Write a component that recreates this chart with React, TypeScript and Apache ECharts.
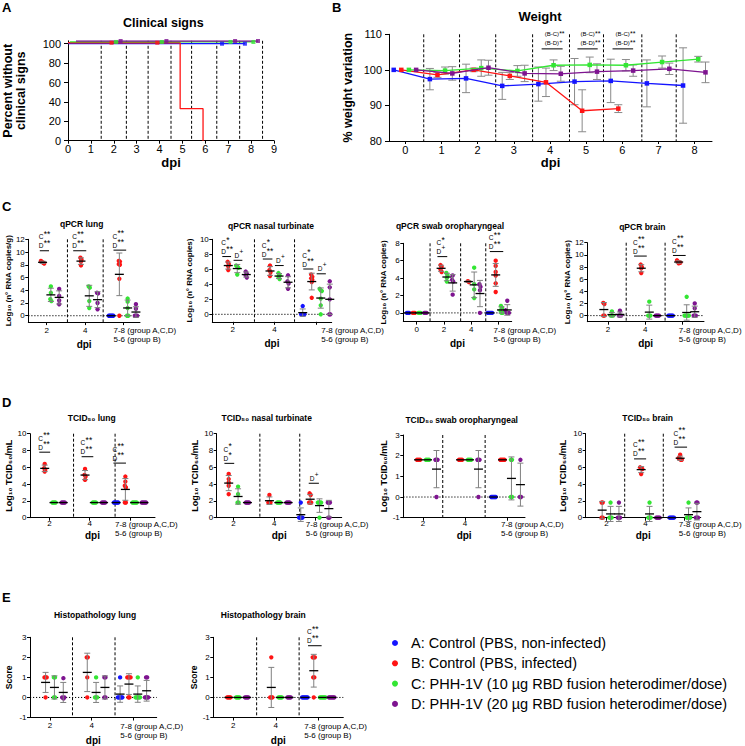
import React, { useEffect, useRef } from "react";
import * as echarts from "echarts";

const FONT = '"Liberation Sans", Arial, Helvetica, sans-serif';
const COLORS = ["#1414ff", "#ff1414", "#33e633", "#7e1490"];
const groupNames = [
  "A: Control (PBS, non-infected)",
  "B: Control (PBS, infected)",
  "C: PHH-1V (10 µg RBD fusion heterodimer/dose)",
  "D: PHH-1V (20 µg RBD fusion heterodimer/dose)",
];

/* ---------- Panel A: clinical signs ---------- */
const clinicalA = [[0, 100], [7.73, 100]];
const clinicalB = [[0, 101], [4.9, 101], [4.9, 33], [5.9, 33], [5.9, 0]];
const clinicalC = [[0.08, 101.8], [8.1, 101.8]];
const clinicalD = [[0.35, 102.8], [8.3, 102.8]];
const censorA = [[6.73, 100], [7.73, 100]];
const censorB = [[1.9, 101], [3.9, 101]];
const censorC = [[2.1, 101.8], [4.1, 101.8], [7.1, 101.8], [8.1, 101.8]];
const censorD = [[2.3, 102.8], [4.3, 102.8], [7.3, 102.8], [8.3, 102.8]];
const clinicalYTicks = [0, 20, 40, 60, 80, 100];

/* ---------- Panel B: weight ---------- */
const weightDays = [0, 1, 2, 3, 4, 5, 6, 7, 8];
const weightMeanA = [100, 97.4, 97.6, 95.5, 96.0, 96.7, 96.9, 96.2, 95.6];
const weightSdA = [0, 3.0, 4.0, 3.8, 4.8, 6.5, 6.1, 6.6, 10.6];
const weightMeanB = [100, 98.6, 100.0, 98.3, 96.5, 88.5, 89.1];
const weightSdB = [0, 0.7, 0.5, 1.0, 4.0, 5.9, 1.1];
const weightMeanC = [100, 99.8, 100.5, 99.7, 101.3, 101.4, 101.3, 102.2, 103.0];
const weightSdC = [0, 1.0, 2.3, 1.5, 1.5, 2.2, 1.6, 1.7, 0.8];
const weightMeanD = [100, 99.0, 100.6, 99.0, 98.9, 99.5, 99.8, 100.3, 99.3];
const weightSdD = [0, 1.9, 2.1, 2.3, 2.1, 2.2, 1.6, 1.6, 2.9];
const weightYTicks = [80, 90, 100, 110];

/* ---------- Dot plots: [dpi category][group A,B,C,D] ---------- */
const dpiTicks3 = ["2", "4", "7-8 (group A,C,D)\n5-6 (group B)"];
const dpiTicks4 = ["0", "2", "4", "7-8 (group A,C,D)\n5-6 (group B)"];
const ticks0to12 = [0, 2, 4, 6, 8, 10, 12];
const ticks0to10 = [0, 2, 4, 6, 8, 10];
const ticks0to8 = [0, 2, 4, 6, 8];
const ticksM1to3 = [-1, 0, 1, 2, 3];

const qpcrLung = [
  [[], [8.6, 8.45, 8.3, 8.2], [4.6, 3.6, 2.6, 2.3], [4.2, 3.1, 2.4, 1.8]],
  [[], [9.1, 8.8, 8.5, 7.9], [4.6, 4.4, 2.3, 1.2], [3.6, 3.5, 2.0, 1.0]],
  [[0, 0, 0, 0, 0], [8.6, 8.5, 8.1, 8.0, 5.8, 0], [2.7, 2.2, 1.2, 0, 0], [1.8, 1.1, 0, 0, 0]],
];
const qpcrNasal = [
  [[], [7.0, 6.7, 6.4, 5.9], [6.5, 6.4, 6.2, 5.3], [5.7, 5.4, 5.2, 4.9]],
  [[], [6.5, 5.9, 5.6, 5.1], [5.5, 5.2, 5.0, 4.7], [5.2, 4.4, 4.1, 3.4]],
  [[1.1, 0, 0, 0, 0], [5.3, 5.0, 4.8, 4.6, 4.3, 2.2], [3.4, 3.2, 3.1, 2.1, 1.2, 0], [4.4, 3.6, 2.0, 0, 0]],
];
const qpcrSwab = [
  [[0, 0, 0], [0, 0, 0], [0, 0, 0], [0, 0, 0]],
  [[], [5.5, 5.3, 5.0, 4.7], [4.6, 4.3, 4.0, 3.6], [4.3, 3.8, 3.6, 2.1]],
  [[], [3.65, 3.55], [5.2, 3.3, 2.7, 1.7], [3.3, 3.0, 2.6, 0]],
  [[0, 0, 0, 0, 0], [6.0, 5.4, 4.7, 4.3, 3.4, 2.4], [0.8, 0.6, 0.3, 0, 0], [1.4, 0.3, 0, 0, 0]],
];
const qpcrBrain = [
  [[], [2.1, 1.9, 0, 0], [0.7, 0, 0, 0], [0.8, 0, 0, 0]],
  [[], [8.4, 8.0, 7.8, 7.0], [2.3, 0, 0, 0], [0, 0, 0, 0]],
  [[0, 0, 0, 0, 0], [9.1, 8.9, 8.8, 8.7, 8.6], [3.1, 0, 0, 0, 0, 0], [2.0, 1.2, 0, 0, 0]],
];
const tcidLung = [
  [[], [6.4, 5.9, 5.7, 5.5], [1.8, 1.8, 1.8, 1.8], [1.8, 1.8, 1.8, 1.8]],
  [[], [5.8, 5.1, 4.9, 4.5], [1.8, 1.8, 1.8, 1.8], [1.8, 1.8, 1.8, 1.8]],
  [[1.8, 1.8, 1.8, 1.8, 1.8], [4.9, 4.3, 3.8, 3.6, 1.8, 1.8], [1.8, 1.8, 1.8, 1.8, 1.8], [1.8, 1.8, 1.8, 1.8, 1.8]],
];
const tcidNasal = [
  [[], [5.2, 4.6, 4.2, 3.8, 2.8], [3.7, 2.8, 1.8, 1.8], [1.8, 1.8, 1.8, 1.8]],
  [[], [2.7, 1.8, 1.8, 1.8], [1.8, 1.8, 1.8, 1.8], [1.8, 1.8, 1.8, 1.8]],
  [[1.8, 0, 0, 0, 0], [2.9, 2.7, 1.8, 1.8, 1.8], [1.8, 1.8, 1.8, 1.8, 0], [1.8, 1.8, 1.8, 0, 0]],
];
const tcidSwab = [
  [[], [1.8, 1.8, 1.8, 1.8], [1.8, 1.8, 1.8, 1.8], [1.8, 1.8, 1.8, 0]],
  [[], [1.8, 1.8, 1.8, 1.8], [1.8, 1.8, 1.8, 1.8], [1.8, 1.8, 1.8, 0]],
  [[0, 0, 0, 0, 0], [1.8, 1.8, 1.8, 1.8, 1.8], [1.8, 1.8, 0, 0], [1.8, 0, 0]],
];
const tcidBrain = [
  [[], [1.8, 1.8, 0, 0], [1.8, 0, 0, 0], [1.8, 0, 0, 0]],
  [[], [6.0, 5.9, 5.8, 5.2], [1.8, 0, 0, 0], [0, 0, 0, 0]],
  [[0, 0, 0, 0, 0], [7.5, 7.1, 7.0, 6.9, 6.9], [1.8, 0, 0, 0, 0], [1.8, 1.8, 0, 0, 0]],
];
const histoLung = [
  [[], [1, 1, 1, 0], [1, 1, 0, 0], [1, 0, 0, 0]],
  [[], [2, 2, 1, 0], [1, 0, 0, 0], [1, 1, 0, 0]],
  [[1, 0, 0, 0, 0, 0], [1, 1, 1, 1, 0, 0], [1, 0, 0, 0, 0, 0], [1, 1, 0, 0, 0, 0]],
];
const histoBrain = [
  [[], [0, 0, 0, 0], [0, 0, 0, 0], [0, 0, 0, 0]],
  [[], [2, 0, 0, 0], [0, 0, 0, 0], [0, 0, 0, 0]],
  [[0, 0, 0, 0, 0, 0], [2, 2, 2, 1, 1, 0], [0, 0, 0, 0, 0, 0], [0, 0, 0, 0, 0, 0]],
];

/* ---------- Layout (positions / styles) ---------- */
const LOG_RNA_G = "Log₁₀ (n° RNA copies/g)";
const LOG_RNA = "Log₁₀ (n° RNA copies)";
const LOG_TCID = "Log₁₀ TCID₅₀/mL";
const dotPanels: any[] = [
  { data: qpcrLung, ticks: dpiTicks3, grid: [28.3, 239.3, 111.7, 82.8], xr: [-0.48, 2.43], yr: [-1, 12], yTicks: ticks0to12, div: [0.54, 1.47], zero: true, gw: 0.216, yName: LOG_RNA_G, yNameFs: 8, yGap: 11, xGap: 17, margin: 4, shift: -10 },
  { data: qpcrNasal, ticks: dpiTicks3, grid: [212.3, 239.3, 119.4, 82.5], xr: [-0.49, 2.37], yr: [-1, 10], yTicks: ticks0to10, div: [0.52, 1.48], zero: true, gw: 0.216, yName: LOG_RNA, yNameFs: 8, yGap: 19, xGap: 17, margin: 4, shift: 5 },
  { data: qpcrSwab, ticks: dpiTicks4, grid: [403.3, 243.3, 108.4, 78.3], xr: [-0.49, 3.48], yr: [-1, 8], yTicks: ticks0to8, div: [0.49, 1.61, 2.53], zero: true, gw: 0.212, yName: LOG_RNA, yNameFs: 8, yGap: 16, xGap: 17, margin: 4, shift: -5 },
  { data: qpcrBrain, ticks: dpiTicks3, grid: [587.3, 242.7, 122.7, 79], xr: [-0.55, 2.57], yr: [-1, 12], yTicks: ticks0to12, div: [0.49, 1.53], zero: true, gw: 0.215, yName: LOG_RNA, yNameFs: 8, yGap: 15, xGap: 17, margin: 4, shift: -4 },
  { data: tcidLung, ticks: dpiTicks3, grid: [30, 433.7, 125, 84], xr: [-0.48, 2.62], yr: [0, 10], yTicks: ticks0to10, div: [0.6, 1.63], zero: false, gw: 0.23, yName: LOG_TCID, yNameFs: 9, yGap: 15, xGap: 12.5, margin: 2, shift: -15 },
  { data: tcidNasal, ticks: dpiTicks3, grid: [216.7, 433.7, 125, 84], xr: [-0.41, 2.66], yr: [0, 10], yTicks: ticks0to10, div: [0.65, 1.63], zero: false, gw: 0.23, yName: LOG_TCID, yNameFs: 9, yGap: 17, xGap: 12.5, margin: 2, shift: -9 },
  { data: tcidSwab, ticks: dpiTicks3, grid: [403.3, 435, 121.7, 82.7], xr: [-0.47, 2.43], yr: [-1, 3], yTicks: ticksM1to3, div: [0.47, 1.48], zero: true, gw: 0.214, yName: LOG_TCID, yNameFs: 9, yGap: 14, xGap: 12.5, margin: 2, shift: -6 },
  { data: tcidBrain, ticks: dpiTicks3, grid: [585.7, 433.7, 126, 84], xr: [-0.53, 2.42], yr: [0, 10], yTicks: ticks0to10, div: [0.47, 1.46], zero: false, gw: 0.215, yName: LOG_TCID, yNameFs: 9, yGap: 18, xGap: 12.5, margin: 2, shift: -6 },
  { data: histoLung, ticks: dpiTicks3, grid: [30, 637.3, 126.7, 82.7], xr: [-0.48, 2.56], yr: [-1, 3], yTicks: ticksM1to3, div: [0.54, 1.56], zero: true, gw: 0.212, yName: "Score", yNameFs: 8.5, yGap: 17, xGap: 17.5, margin: 4, shift: -13 },
  { data: histoBrain, ticks: dpiTicks3, grid: [213.3, 637.3, 130, 82.7], xr: [-0.47, 2.59], yr: [-1, 3], yTicks: ticksM1to3, div: [0.55, 1.55], zero: true, gw: 0.21, yName: "Score", yNameFs: 8.5, yGap: 13, xGap: 17.5, margin: 4, shift: -14 },
];

const panelTitles: any[] = [
  ["Clinical signs", 163.3, 22.7, 12.5],
  ["Weight", 540, 16.7, 13],
  ["qPCR lung", 81.7, 224.3, 8.5],
  ["qPCR nasal turbinate", 271, 226, 8.5],
  ["qPCR swab oropharyngeal", 450, 226, 8.5],
  ["qPCR brain", 642.3, 226.7, 8.5],
  ["TCID₅₀ lung", 91.7, 418.3, 8.5],
  ["TCID₅₀ nasal turbinate", 266.7, 418.3, 8.5],
  ["TCID₅₀ swab oropharyngeal", 461.7, 420, 8.5],
  ["TCID₅₀ brain", 647.7, 418.3, 8.5],
  ["Histopathology lung", 95, 615, 8.5],
  ["Histopathology brain", 263.3, 615, 8.5],
];
const panelLetters: any[] = [["A", 2, 7.5], ["B", 332, 7.5], ["C", 2, 206], ["D", 2, 402.5], ["E", 2, 597.5]];

// significance marks: [gridIndex, x1, x2, yLine, C-superscript, D-superscript]
const sigMarks: any[] = [
  [2, -0.18, 0.06, 10.2, "**", "**"],
  [2, 0.69, 1.03, 10.2, "**", "**"],
  [2, 1.74, 2.07, 10.3, "**", "**"],
  [3, -0.25, -0.04, 7.7, "*", "**"],
  [3, 0.02, 0.23, 7.2, "", "+"],
  [3, 0.72, 0.95, 7.37, "*", "**"],
  [3, 1.01, 1.22, 6.5, "", "+"],
  [3, 1.69, 1.93, 6.04, "*", "**"],
  [3, 2.01, 2.23, 5.4, "", "+"],
  [4, 0.76, 1.12, 6.47, "*", "+"],
  [4, 2.68, 3.17, 7.05, "**", "**"],
  [5, 0.7, 1.04, 9.8, "**", "**"],
  [5, 1.74, 2.08, 9.9, "**", "**"],
  [6, -0.25, 0.02, 7.8, "**", "**"],
  [6, 0.8, 1.09, 7.26, "**", "**"],
  [6, 1.59, 1.9, 6.5, "**", "**"],
  [7, -0.22, 0.02, 6.47, "*", "*"],
  [7, 1.85, 2.1, 4.1, "", "+"],
  [9, 0.71, 1.02, 7.0, "**", "**"],
  [9, 1.75, 2.07, 8.4, "**", "**"],
  [11, 1.76, 2.08, 2.58, "**", "**"],
];
// weight brackets: [x1, x2, y, B-C sup, B-D sup]
const weightSig: any[] = [
  [3.77, 4.35, 105.9, "**", "+"],
  [4.76, 5.32, 105.9, "**", "**"],
  [5.73, 6.3, 105.9, "**", "**"],
];

/* ---------- helpers ---------- */
function mean(a: number[]) {
  return a.reduce((s, v) => s + v, 0) / a.length;
}
function sdev(a: number[]) {
  if (a.length < 2) return 0;
  const m = mean(a);
  return Math.sqrt(a.reduce((s, v) => s + (v - m) * (v - m), 0) / (a.length - 1));
}
function swarm(ys: number[], step: number, minD: number) {
  const offs = new Array(ys.length).fill(0);
  let i = 0;
  while (i < ys.length) {
    let j = i;
    while (j + 1 < ys.length && ys[j + 1] - ys[i] < minD) j++;
    const n = j - i + 1;
    for (let k = 0; k < n; k++) offs[i + k] = (k - (n - 1) / 2) * step;
    i = j + 1;
  }
  return offs;
}

const BLACK_LINE = { show: true, onZero: false, lineStyle: { color: "#000", width: 1 } };

function dividerSeries(gi: number, xs: number[], y0: number) {
  return {
    type: "custom", xAxisIndex: gi, yAxisIndex: gi, silent: true, z: 1,
    data: xs.map((x) => [x, y0]),
    renderItem: (params: any, api: any) => {
      const cs = params.coordSys;
      const px = api.coord([api.value(0), api.value(1)])[0];
      return {
        type: "line",
        shape: { x1: px, y1: cs.y, x2: px, y2: cs.y + cs.height },
        style: { stroke: "#000", lineWidth: 1, lineDash: [3, 2] },
      };
    },
  };
}
function zeroSeries(gi: number, x0: number) {
  return {
    type: "custom", xAxisIndex: gi, yAxisIndex: gi, silent: true, z: 1,
    data: [[x0, 0]],
    renderItem: (params: any, api: any) => {
      const cs = params.coordSys;
      const py = api.coord([api.value(0), 0])[1];
      return {
        type: "line",
        shape: { x1: cs.x, y1: py, x2: cs.x + cs.width, y2: py },
        style: { stroke: "#000", lineWidth: 1, lineDash: [1.2, 1.8] },
      };
    },
  };
}
function errorSeries(gi: number, pts: number[][], cap: number) {
  return {
    type: "custom", xAxisIndex: gi, yAxisIndex: gi, silent: true, z: 2,
    data: pts,
    renderItem: (params: any, api: any) => {
      const x = api.value(0), m = api.value(1), s = api.value(2);
      if (!(s > 0)) return { type: "group", children: [] };
      const t = api.coord([x, m + s]);
      const b = api.coord([x, m - s]);
      const st = { stroke: "#8a8a8a", lineWidth: 1 };
      return {
        type: "group",
        children: [
          { type: "line", shape: { x1: t[0], y1: t[1], x2: b[0], y2: b[1] }, style: st },
          { type: "line", shape: { x1: t[0] - cap, y1: t[1], x2: t[0] + cap, y2: t[1] }, style: st },
          { type: "line", shape: { x1: b[0] - cap, y1: b[1], x2: b[0] + cap, y2: b[1] }, style: st },
        ],
      };
    },
  };
}
function dotGroupSeries(gi: number, p: any, g: number) {
  const items: number[][] = [];
  const vals: number[][] = [];
  p.data.forEach((cat: number[][], c: number) => {
    const v = cat[g];
    if (v.length) {
      items.push([c + (g - 1.5) * p.gw, mean(v)]);
      vals.push(v);
    }
  });
  return {
    type: "custom", name: groupNames[g], xAxisIndex: gi, yAxisIndex: gi, z: 3 + g,
    itemStyle: { color: COLORS[g] },
    data: items,
    renderItem: (params: any, api: any) => {
      const v = vals[params.dataIndex];
      const x = api.value(0);
      const m = mean(v);
      const s = sdev(v);
      const c = api.coord([x, m]);
      const ys = v.map((y) => api.coord([x, y])[1]).sort((a, b) => a - b);
      const offs = swarm(ys, 1.1, 3);
      const children: any[] = ys.map((py, i) => ({
        type: "circle",
        shape: { cx: c[0] + offs[i], cy: py, r: 2.2 },
        style: { fill: COLORS[g] },
      }));
      if (s > 0) {
        const t = api.coord([x, m + s])[1];
        const b = api.coord([x, m - s])[1];
        const st = { stroke: "#808080", lineWidth: 1 };
        children.push({ type: "line", shape: { x1: c[0], y1: t, x2: c[0], y2: b }, style: st });
        children.push({ type: "line", shape: { x1: c[0] - 3, y1: t, x2: c[0] + 3, y2: t }, style: st });
        children.push({ type: "line", shape: { x1: c[0] - 3, y1: b, x2: c[0] + 3, y2: b }, style: st });
      }
      children.push({
        type: "line",
        shape: { x1: c[0] - 4.5, y1: c[1], x2: c[0] + 4.5, y2: c[1] },
        style: { stroke: "#000", lineWidth: 1.3 },
      });
      return { type: "group", children };
    },
  };
}

function buildOption() {
  const grid: any[] = [];
  const xAxis: any[] = [];
  const extraX: any[] = [];
  const yAxis: any[] = [];
  const series: any[] = [];

  /* Panel A */
  grid.push({ left: 68, top: 40.8, width: 206, height: 99.9 });
  xAxis.push({
    type: "value", gridIndex: 0, min: 0, max: 9, interval: 1,
    axisLine: BLACK_LINE, splitLine: { show: false },
    axisTick: { length: 3, lineStyle: { color: "#000" } },
    axisLabel: { fontSize: 11, color: "#000", margin: 3, fontFamily: FONT },
    name: "dpi", nameLocation: "middle", nameGap: 15,
    nameTextStyle: { fontSize: 13, fontWeight: "bold", color: "#000", fontFamily: FONT },
  });
  yAxis.push({
    type: "value", gridIndex: 0, min: 0, max: 103,
    axisLine: BLACK_LINE, splitLine: { show: false },
    axisTick: { customValues: clinicalYTicks, length: 4, lineStyle: { color: "#000" } },
    axisLabel: { customValues: clinicalYTicks, fontSize: 11, color: "#000", margin: 7, fontFamily: FONT },
    name: "Percent without\nclinical signs", nameLocation: "middle", nameGap: 41,
    nameTextStyle: { fontSize: 12.5, fontWeight: "bold", color: "#000", lineHeight: 12.5, fontFamily: FONT },
  });
  series.push(dividerSeries(0, [1.45, 2.55, 3.5, 4.5, 5.4, 6.5, 7.5, 8.5], 0));
  [clinicalA, clinicalB, clinicalC, clinicalD].forEach((d, g) => {
    series.push({
      type: "line", name: groupNames[g], xAxisIndex: 0, yAxisIndex: 0, data: d,
      showSymbol: false, symbol: "none", z: 3 + g,
      itemStyle: { color: COLORS[g] }, lineStyle: { color: COLORS[g], width: 1.3 },
    });
  });
  [censorA, censorB, censorC, censorD].forEach((d, g) => {
    series.push({
      type: "scatter", name: groupNames[g], xAxisIndex: 0, yAxisIndex: 0, data: d,
      symbol: "rect", symbolSize: 4, z: 8, itemStyle: { color: COLORS[g] },
    });
  });

  /* Panel B */
  const wOff = [-0.32, -0.11, 0.1, 0.3];
  grid.push({ left: 389, top: 34.3, width: 323, height: 106.7 });
  xAxis.push({
    type: "value", gridIndex: 1, min: -0.45, max: 8.48,
    axisLine: BLACK_LINE, splitLine: { show: false },
    axisTick: { customValues: weightDays, length: 3, lineStyle: { color: "#000" } },
    axisLabel: { customValues: weightDays, fontSize: 11, color: "#000", margin: 3, fontFamily: FONT },
    name: "dpi", nameLocation: "middle", nameGap: 14,
    nameTextStyle: { fontSize: 13, fontWeight: "bold", color: "#000", fontFamily: FONT },
  });
  yAxis.push({
    type: "value", gridIndex: 1, min: 80, max: 110, interval: 10,
    axisLine: BLACK_LINE, splitLine: { show: false },
    axisTick: { customValues: weightYTicks, length: 4, lineStyle: { color: "#000" } },
    axisLabel: { customValues: weightYTicks, fontSize: 11, color: "#000", margin: 7, fontFamily: FONT },
    name: "% weight variation", nameLocation: "middle", nameGap: 35,
    nameTextStyle: { fontSize: 12.5, fontWeight: "bold", color: "#000", fontFamily: FONT },
  });
  series.push(dividerSeries(1, [0.51, 1.5, 2.5, 3.52, 4.54, 5.48, 6.54, 7.49], 80));
  const wMeans = [weightMeanA, weightMeanB, weightMeanC, weightMeanD];
  const wSds = [weightSdA, weightSdB, weightSdC, weightSdD];
  wMeans.forEach((m, g) => {
    const pts = m.map((v, i) => [weightDays[i] + wOff[g], v, wSds[g][i]]);
    series.push(errorSeries(1, pts, 4));
  });
  wMeans.forEach((m, g) => {
    series.push({
      type: "line", name: groupNames[g], xAxisIndex: 1, yAxisIndex: 1,
      data: m.map((v, i) => [weightDays[i] + wOff[g], v]),
      symbol: "rect", symbolSize: 4.5, showSymbol: true, z: 4 + g,
      itemStyle: { color: COLORS[g] }, lineStyle: { color: COLORS[g], width: 1.3 },
    });
  });

  /* Dot panels */
  dotPanels.forEach((p, i) => {
    const gi = 2 + i;
    const fs = 8;
    grid.push({ left: p.grid[0], top: p.grid[1], width: p.grid[2], height: p.grid[3] });
    const cats = p.ticks.map((_: any, k: number) => k);
    const last = p.ticks.length - 1;
    const [l1, l2] = p.ticks[last].split("\n");
    const scale = p.grid[2] / (p.xr[1] - p.xr[0]);
    xAxis.push({
      type: "value", gridIndex: gi, min: p.xr[0], max: p.xr[1], position: "bottom",
      axisLine: BLACK_LINE, splitLine: { show: false },
      axisTick: { customValues: cats, length: 3, lineStyle: { color: "#000" } },
      axisLabel: {
        customValues: cats.slice(0, last), fontSize: fs, color: "#000", margin: p.margin, fontFamily: FONT,
        formatter: (v: number) => p.ticks[Math.round(v)] ?? "",
      },
      name: "dpi", nameLocation: "middle", nameGap: p.xGap,
      nameTextStyle: { fontSize: 10, fontWeight: "bold", color: "#000", fontFamily: FONT },
    });
    // second bottom axis (same scale) carrying the two-line last category label, left-aligned
    extraX.push({
      type: "value", gridIndex: gi, min: p.xr[0], max: p.xr[1], position: "bottom",
      axisLine: { show: false }, axisTick: { show: false }, splitLine: { show: false },
      axisLabel: {
        customValues: [last + p.shift / scale], align: "left", margin: p.margin,
        fontSize: fs, color: "#000", fontFamily: FONT, hideOverlap: false,
        formatter: () => `{l|${l1}}\n{l|${l2}}`,
        rich: { l: { align: "left", fontSize: fs, lineHeight: fs + 1, fontFamily: FONT, color: "#000" } },
      },
    });
    yAxis.push({
      type: "value", gridIndex: gi, min: p.yr[0], max: p.yr[1],
      axisLine: BLACK_LINE, splitLine: { show: false },
      axisTick: { customValues: p.yTicks, length: 3, lineStyle: { color: "#000" } },
      axisLabel: { customValues: p.yTicks, fontSize: fs, color: "#000", margin: 3.5, fontFamily: FONT },
      name: p.yName, nameLocation: "middle", nameGap: p.yGap,
      nameTextStyle: { fontSize: p.yNameFs, fontWeight: "bold", color: "#000", fontFamily: FONT },
    });
    series.push(dividerSeries(gi, p.div, p.yr[0]));
    if (p.zero) series.push(zeroSeries(gi, p.xr[0]));
    for (let g = 0; g < 4; g++) series.push(dotGroupSeries(gi, p, g));
  });

  return {
    animation: false,
    backgroundColor: "#fff",
    textStyle: { fontFamily: FONT },
    grid,
    xAxis: xAxis.concat(extraX),
    yAxis,
    series,
    legend: {
      orient: "vertical", left: 387, top: 630, itemWidth: 22, itemHeight: 6, itemGap: 4.3,
      icon: "circle", selectedMode: false,
      textStyle: { fontSize: 14.5, color: "#000", fontFamily: FONT, lineHeight: 16 },
      data: groupNames,
    },
  };
}

function buildGraphics(chart: any) {
  const els: any[] = [];
  const T = (x: number, y: number, text: string, fs: number, bold = false, align = "left") =>
    els.push({
      type: "text", x, y, silent: true,
      style: {
        text, fontSize: fs, fontWeight: bold ? "bold" : "normal", fontFamily: FONT, fill: "#000",
        align, verticalAlign: "middle", textAlign: align, textVerticalAlign: "middle",
      },
    });
  panelLetters.forEach(([l, x, y]) => T(x, y, l, 13, true));
  panelTitles.forEach(([t, x, y, fs]) => T(x, y, t, fs, true, "center"));
  sigMarks.forEach(([gi, x1, x2, yv, cs, ds]) => {
    const a = chart.convertToPixel({ gridIndex: gi }, [x1, yv]);
    const b = chart.convertToPixel({ gridIndex: gi }, [x2, yv]);
    els.push({
      type: "line", silent: true,
      shape: { x1: a[0], y1: a[1], x2: b[0], y2: a[1] },
      style: { stroke: "#000", lineWidth: 1 },
    });
    if (cs) {
      T(a[0] - 1, a[1] - 14, "C", 6.5);
      T(a[0] + 4, a[1] - 17, cs, 8.5);
      T(a[0] - 1, a[1] - 5, "D", 6.5);
    } else {
      T(a[0] + 1, a[1] - 5, "D", 6.5);
    }
    const dx = cs ? a[0] + 4 : a[0] + 6;
    if (ds === "+") T(dx, a[1] - 9, "+", 6.5);
    else T(dx, a[1] - 8, ds, 8.5);
  });
  weightSig.forEach(([x1, x2, yv, bc, bd]) => {
    const a = chart.convertToPixel({ gridIndex: 1 }, [x1, yv]);
    const b = chart.convertToPixel({ gridIndex: 1 }, [x2, yv]);
    els.push({
      type: "line", silent: true,
      shape: { x1: a[0], y1: a[1], x2: b[0], y2: a[1] },
      style: { stroke: "#000", lineWidth: 1 },
    });
    T(a[0] + 3, a[1] - 14.7, "(B-C)", 6);
    T(a[0] + 17.5, a[1] - 15.5, bc, 7);
    T(a[0] + 3, a[1] - 5.7, "(B-D)", 6);
    if (bd === "+") T(a[0] + 17.5, a[1] - 8, "+", 5.5);
    else T(a[0] + 17.5, a[1] - 6.5, bd, 7);
  });
  return els;
}

export default function App() {
  const ref = useRef<HTMLDivElement>(null);
  useEffect(() => {
    const chart = echarts.init(ref.current as HTMLDivElement, null, { renderer: "svg" });
    chart.setOption(buildOption() as any);
    chart.setOption({ graphic: { elements: buildGraphics(chart) } } as any);
    return () => chart.dispose();
  }, []);
  return (
    <div
      ref={ref}
      style={{ position: "fixed", left: 0, top: 0, width: 745, height: 746, background: "#fff" }}
    />
  );
}
